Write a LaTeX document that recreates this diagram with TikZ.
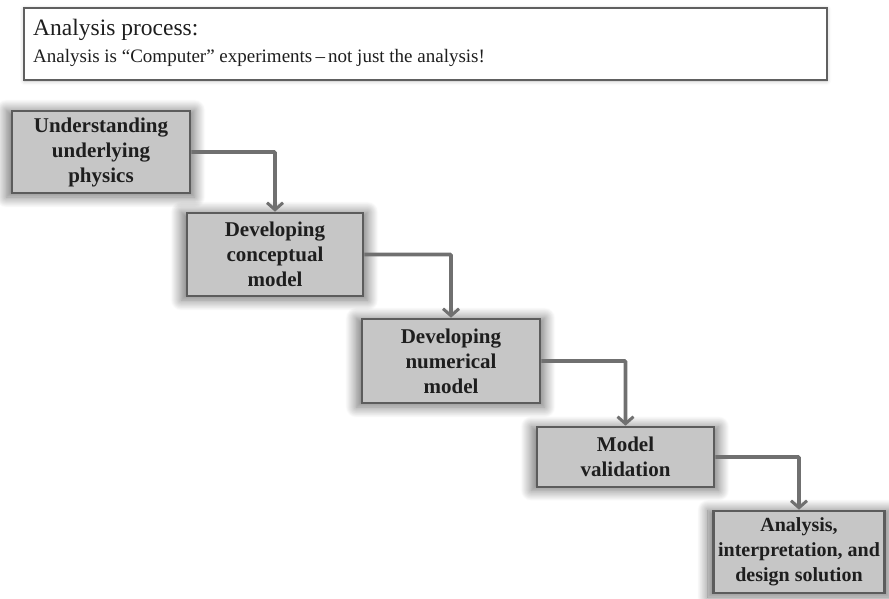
\documentclass[tikz,border=0pt]{standalone}
\usepackage{fontspec}
\setmainfont{Liberation Serif}
\usepackage{xcolor}
\definecolor{stepgray}{RGB}{198,198,198}
\definecolor{stepborder}{RGB}{92,92,92}
\definecolor{flowgray}{RGB}{112,112,112}
\definecolor{textdark}{RGB}{30,30,30}
\usetikzlibrary{arrows.meta,positioning,shadows.blur}
\tikzset{
  step box/.style={draw=stepborder, line width=2.6pt, fill=stepgray, align=center,
    inner sep=0pt, text=textdark, font=\fontsize{21}{25}\selectfont\bfseries,
    blur shadow={shadow xshift=-0.5pt, shadow yshift=-1.5pt, shadow scale=1.06,
      shadow blur radius=10pt, shadow opacity=55, shadow blur steps=16}},
  note box/.style={draw=gray!75!black, line width=2.2pt, fill=white, align=left,
    inner sep=0pt, text=textdark,
    blur shadow={shadow xshift=0pt, shadow yshift=-1pt, shadow blur radius=4pt,
      shadow opacity=25}},
  flow edge/.style={-{Straight Barb[length=7pt, width=16pt, line width=3pt]},
    draw=flowgray, line width=3.6pt, rounded corners=1pt},
}

\begin{document}
\begin{tikzpicture}[x=1pt, y=-1pt]
  \useasboundingbox (0,0) rectangle (889,598);
  % heading note
  \node[note box, minimum width=803pt, minimum height=72pt] (note) at (425.5,44) {};
  \node[anchor=base west, font=\fontsize{23.5}{27}\selectfont, text=textdark, inner sep=0pt] (title) at (33,35) {Analysis process:};
  \node[anchor=base west, font=\fontsize{19}{22}\selectfont, text=textdark, inner sep=0pt] (sub) at (33,62) {Analysis is “Computer” experiments\,–\,not just the analysis!};
  % the five steps
  \node[step box, minimum width=178pt, minimum height=82pt] (physics) at (101,152) {Understanding\\underlying\\physics};
  \node[step box, minimum width=176pt, minimum height=83pt] (concept) at (275,254.5) {Developing\\conceptual\\model};
  \node[step box, minimum width=178pt, minimum height=84pt] (numeric) at (451,361) {Developing\\numerical\\model};
  \node[step box, minimum width=177pt, minimum height=60pt] (valid) at (625.5,457) {Model\\validation};
  \node[step box, minimum width=171pt, minimum height=82pt, font=\fontsize{20}{25}\selectfont\bfseries] (design) at (799,552) {Analysis,\\interpretation, and\\design solution};
  % connectors
  \draw[flow edge] (physics.east) -| (concept.north);
  \draw[flow edge] (concept.east) -| (numeric.north);
  \draw[flow edge] (numeric.east) -| (valid.north);
  \draw[flow edge] (valid.east) -| (design.north);
\end{tikzpicture}
\end{document}
